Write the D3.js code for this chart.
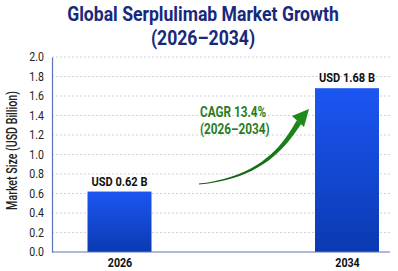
<!DOCTYPE html>
<html>
<head>
<meta charset="utf-8">
<script src="https://cdn.jsdelivr.net/npm/d3@7"></script>
<style>
  html, body { margin: 0; padding: 0; background: #ffffff; }
  svg { display: block; }
</style>
</head>
<body>
<div id="chart"></div>
<script>
const titleLines = ["Global Serplulimab Market Growth", "(2026\u20132034)"];
const years = ["2026", "2034"];
const values = [0.62, 1.68];
const valueLabels = ["USD 0.62 B", "USD 1.68 B"];
const yTicks = [0, 0.2, 0.4, 0.6, 0.8, 1.0, 1.2, 1.4, 1.6, 1.8, 2.0];
const yTitle = "Market Size (USD Billion)";
const cagrLines = ["CAGR 13.4%", "(2026\u20132034)"];

const width = 398, height = 271;
const font = "Roboto, 'Liberation Sans', sans-serif";

// no condensed face installed, so squeeze glyphs a bit
function condense(sel, k) {
    sel.each(function () {
        const w = this.getComputedTextLength();
        d3.select(this).attr("textLength", w * k).attr("lengthAdjust", "spacingAndGlyphs");
    });
}

const svg = d3.select("#chart").append("svg")
    .attr("width", width)
    .attr("height", height);

const defs = svg.append("defs");
const barGrad = defs.append("linearGradient")
    .attr("id", "barGrad").attr("x1", 0).attr("y1", 0).attr("x2", 0).attr("y2", 1);
barGrad.append("stop").attr("offset", "0%").attr("stop-color", "#1c56f2");
barGrad.append("stop").attr("offset", "100%").attr("stop-color", "#0a3ab2");

const arrowGrad = defs.append("linearGradient")
    .attr("id", "arrowGrad").attr("x1", 0).attr("y1", 1).attr("x2", 1).attr("y2", 0);
arrowGrad.append("stop").attr("offset", "0%").attr("stop-color", "#0f5a12");
arrowGrad.append("stop").attr("offset", "100%").attr("stop-color", "#1f8a1c");

// title
svg.selectAll(".title")
    .data(titleLines)
    .enter()
    .append("text")
    .attr("class", "title")
    .attr("x", 203)
    .attr("y", (d, i) => 21 + i * 24)
    .attr("text-anchor", "middle")
    .style("font-family", font)
    .style("font-weight", "bold")
    .style("font-size", "20px")
    .style("fill", "#17297c")
    .text(d => d)
    .call(condense, 0.88);

const plotL = 52, plotR = 390, plotT = 57, plotB = 252;

const y = d3.scaleLinear().domain([0, 2]).range([plotB, plotT]);
const x = d3.scalePoint().domain(years).range([119.5, 347]);
const barW = 64;

// grid
svg.append("g")
    .selectAll("line")
    .data(yTicks.filter(d => d > 0))
    .enter()
    .append("line")
    .attr("x1", plotL).attr("x2", plotR)
    .attr("y1", d => y(d)).attr("y2", d => y(d))
    .attr("stroke", "#cfd3da")
    .attr("stroke-width", 1)
    .attr("stroke-dasharray", "2,2");

// y axis
const yAxis = svg.append("g")
    .attr("transform", `translate(${plotL},0)`)
    .call(d3.axisLeft(y).tickValues(yTicks).tickFormat(d3.format(".1f")).tickSize(0).tickPadding(8));
yAxis.select(".domain").attr("stroke", "#5d73b8").attr("stroke-width", 1.2);
yAxis.selectAll("text")
    .style("font-family", font)
    .style("font-size", "12px")
    .style("fill", "#222")
    .call(condense, 0.88);

svg.append("text")
    .attr("transform", `translate(17,${(plotT + plotB) / 2 - 4}) rotate(-90)`)
    .attr("text-anchor", "middle")
    .style("font-family", font)
    .style("font-weight", "500")
    .style("font-size", "14px")
    .style("fill", "#222")
    .text(yTitle)
    .call(condense, 0.76);

// bars
svg.selectAll(".bar")
    .data(values)
    .enter()
    .append("rect")
    .attr("class", "bar")
    .attr("x", (d, i) => x(years[i]) - barW / 2)
    .attr("y", d => y(d))
    .attr("width", barW)
    .attr("height", d => plotB - y(d))
    .attr("fill", "url(#barGrad)");

svg.selectAll(".vlabel")
    .data(values)
    .enter()
    .append("text")
    .attr("class", "vlabel")
    .attr("x", (d, i) => x(years[i]))
    .attr("y", d => y(d) - 6)
    .attr("text-anchor", "middle")
    .style("font-family", font)
    .style("font-weight", "bold")
    .style("font-size", "13px")
    .style("fill", "#111")
    .text((d, i) => valueLabels[i])
    .call(condense, 0.85);

// x axis
svg.append("line")
    .attr("x1", plotL).attr("x2", plotR)
    .attr("y1", plotB).attr("y2", plotB)
    .attr("stroke", "#5d73b8").attr("stroke-width", 1.2);

const xAxis = svg.append("g")
    .attr("transform", `translate(0,${plotB})`)
    .call(d3.axisBottom(x).tickSize(0).tickPadding(6));
xAxis.select(".domain").remove();
xAxis.selectAll("text")
    .style("font-family", font)
    .style("font-weight", "bold")
    .style("font-size", "13px")
    .style("fill", "#111")
    .call(condense, 0.82);

// CAGR arrow: tapered curve
const p0 = [199, 184], c1 = [262, 178], c2 = [285, 145], p1 = [299, 122];
function bez(t) {
    const u = 1 - t;
    return [
        u*u*u*p0[0] + 3*u*u*t*c1[0] + 3*u*t*t*c2[0] + t*t*t*p1[0],
        u*u*u*p0[1] + 3*u*u*t*c1[1] + 3*u*t*t*c2[1] + t*t*t*p1[1]
    ];
}
const steps = d3.range(0, 1.0001, 0.05);
const sideA = [], sideB = [];
steps.forEach(t => {
    const a = bez(Math.max(0, t - 0.01)), b = bez(Math.min(1, t + 0.01));
    const dx = b[0] - a[0], dy = b[1] - a[1], len = Math.hypot(dx, dy);
    const nx = -dy / len, ny = dx / len;
    const w = 0.4 + 2.4 * t;
    const p = bez(t);
    sideA.push([p[0] + nx * w, p[1] + ny * w]);
    sideB.push([p[0] - nx * w, p[1] - ny * w]);
});
const shaft = sideA.concat(sideB.reverse());
svg.append("path")
    .attr("d", d3.line()(shaft) + "Z")
    .attr("fill", "url(#arrowGrad)");
svg.append("path")
    .attr("d", d3.line()([[309, 109], [292, 116], [304, 127]]) + "Z")
    .attr("fill", "#1f8a1c");

svg.selectAll(".cagr")
    .data(cagrLines)
    .enter()
    .append("text")
    .attr("class", "cagr")
    .attr("x", 200)
    .attr("y", (d, i) => 117 + i * 17)
    .style("font-family", font)
    .style("font-weight", "bold")
    .style("font-size", "14px")
    .style("fill", "#2a7d1e")
    .text(d => d)
    .call(condense, 0.84);
</script>
</body>
</html>
